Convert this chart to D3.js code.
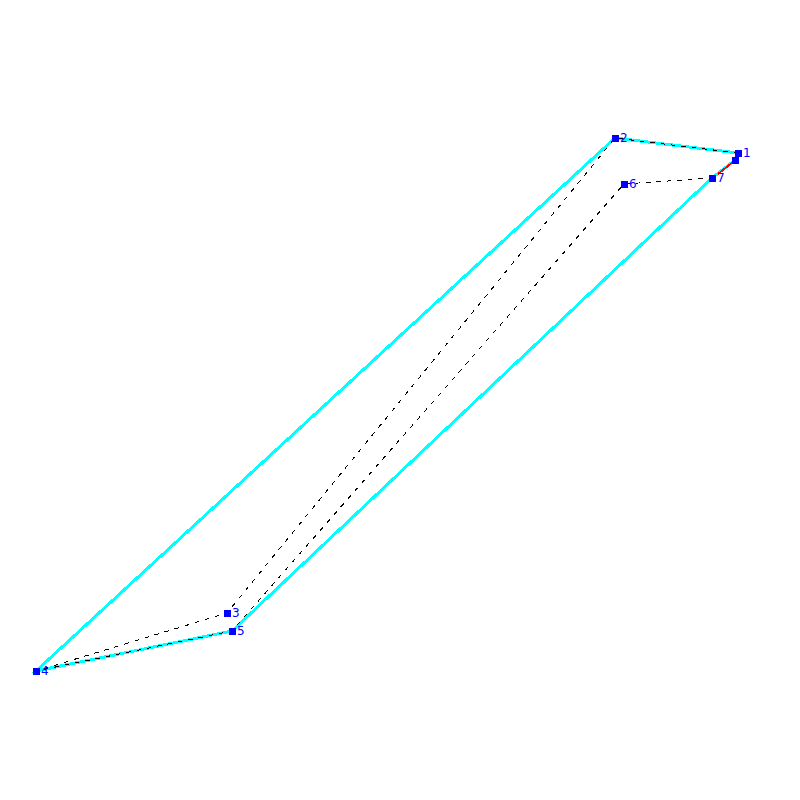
<!DOCTYPE html>
<html>
<head>
<meta charset="utf-8">
<script src="https://cdn.jsdelivr.net/npm/d3@7"></script>
<style>
  html, body { margin: 0; padding: 0; background: #fff; }
  svg { display: block; }
</style>
</head>
<body>
<div id="chart"></div>
<script>
// Values, in picture units
const labels = ["1", "2", "3", "4", "5", "6", "7"];
const pointX = [738, 615, 227, 36, 232, 624, 712];
const pointY = [153, 138, 613, 671, 631, 184, 178];

// the outline skips points 3 and 6, and runs on to an unlabelled end point
const outlineOrder = [0, 1, 3, 4, 6];
const endX = [735];
const endY = [160];

const redX = [718, 733];
const redY = [174, 162];

const WIDTH = 800;
const HEIGHT = 800;
const MARKER = 7;

const svg = d3.select("#chart").append("svg").attr("width", WIDTH).attr("height", HEIGHT);

const x = d3.scaleLinear().domain([0, 800]).range([0, WIDTH]);
const y = d3.scaleLinear().domain([0, 800]).range([0, HEIGHT]);
const line = d3.line().x(d => x(d[0])).y(d => y(d[1]));

const points = d3.zip(pointX, pointY);
const outline = outlineOrder.map(i => points[i]).concat(d3.zip(endX, endY));

// Outline
svg.append("path")
  .attr("d", line(outline))
  .attr("fill", "none")
  .attr("stroke", "#00ffff")
  .attr("stroke-width", 3)
  .attr("shape-rendering", "crispEdges");

// Dashed path through all numbered points
svg.append("path")
  .attr("d", line(points))
  .attr("fill", "none")
  .attr("stroke", "#000")
  .attr("stroke-width", 1)
  .attr("stroke-dasharray", "4.5,6")
  .attr("shape-rendering", "crispEdges");

// Short red piece near the end
svg.append("path")
  .attr("d", line(d3.zip(redX, redY)))
  .attr("fill", "none")
  .attr("stroke", "#ff0000")
  .attr("stroke-width", 2)
  .attr("shape-rendering", "crispEdges");

// Markers
svg.selectAll("rect.marker")
  .data(points.concat(d3.zip(endX, endY)))
  .enter()
  .append("rect")
  .attr("class", "marker")
  .attr("x", d => x(d[0]) - 3)
  .attr("y", d => y(d[1]) - 3)
  .attr("width", MARKER)
  .attr("height", MARKER)
  .attr("fill", "#0000ff")
  .attr("shape-rendering", "crispEdges");

// Labels
svg.selectAll("text.label")
  .data(points)
  .enter()
  .append("text")
  .attr("class", "label")
  .attr("x", d => x(d[0]) + 5)
  .attr("y", d => y(d[1]) + 4)
  .attr("font-family", "DejaVu Sans, sans-serif")
  .attr("font-size", "12px")
  .attr("fill", "#0000ff")
  .text((d, i) => labels[i]);
</script>
</body>
</html>
